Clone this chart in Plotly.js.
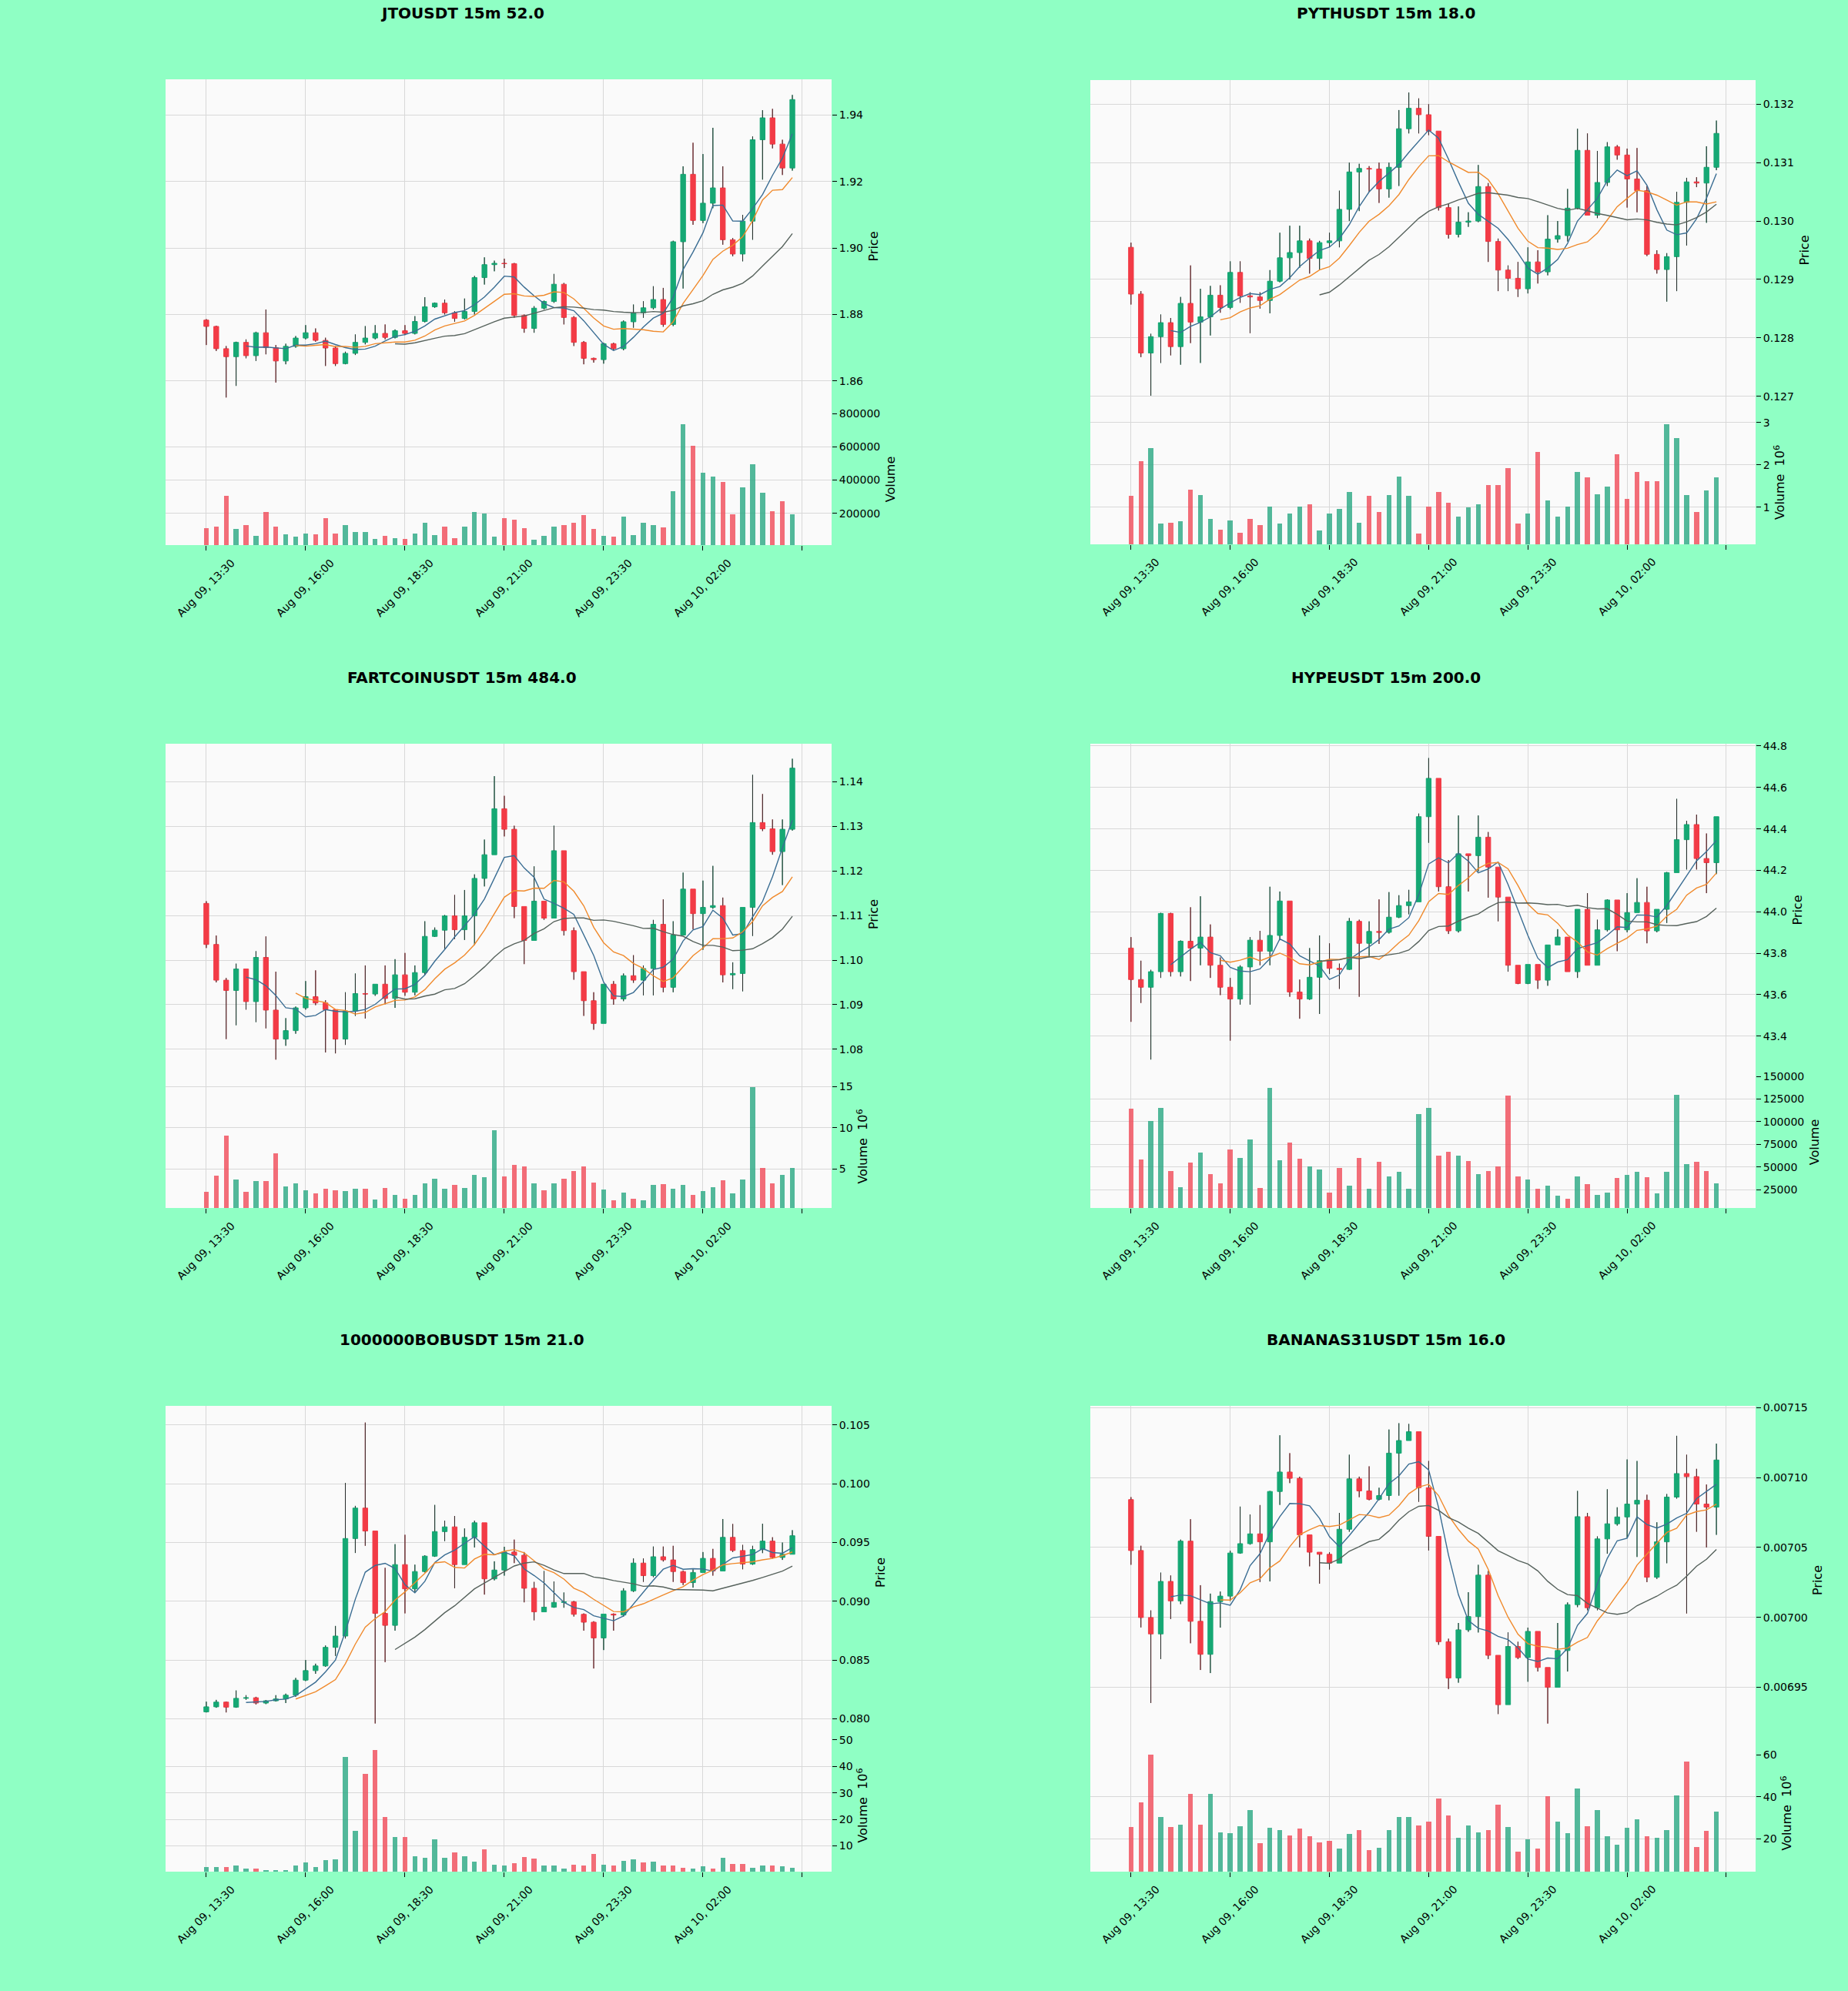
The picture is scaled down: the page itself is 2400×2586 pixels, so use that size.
<!DOCTYPE html>
<html><head><meta charset="utf-8">
<script src="https://cdn.plot.ly/plotly-3.0.1.min.js"></script>
<style>html,body{margin:0;padding:0;background:#8fffc4;}#chart{width:2400px;height:2586px;}</style>
</head><body><div id="chart"></div>
<script>
// ---------- shared x axis ----------
const tickIdx = [0, 10, 20, 30, 40, 50, 60];
const tickLabels = ["Aug 09, 13:30", "Aug 09, 16:00", "Aug 09, 18:30", "Aug 09, 21:00", "Aug 09, 23:30", "Aug 10, 02:00", ""];
const titles = ["JTOUSDT 15m 52.0", "PYTHUSDT 15m 18.0", "FARTCOINUSDT 15m 484.0", "HYPEUSDT 15m 200.0", "1000000BOBUSDT 15m 21.0", "BANANAS31USDT 15m 16.0"];
const maPeriods = [5, 10, 20];

// ---------- JTOUSDT ----------
const jtoOpen = [1.8783,1.8764,1.8697,1.8673,1.8716,1.8676,1.8745,1.8700,1.8660,1.8704,1.8729,1.8745,1.8722,1.8699,1.8652,1.8683,1.8716,1.8729,1.8743,1.8731,1.8751,1.8743,1.8779,1.8823,1.8834,1.8805,1.8788,1.8809,1.8911,1.8950,1.8954,1.8953,1.8797,1.8758,1.8819,1.8839,1.8891,1.8791,1.8716,1.8668,1.8664,1.8712,1.8697,1.8778,1.8805,1.8820,1.8845,1.8770,1.9019,1.9222,1.9083,1.9135,1.9181,1.9025,1.8982,1.9081,1.9326,1.9392,1.9313,1.9241];
const jtoHigh = [1.8786,1.8766,1.8705,1.8718,1.8725,1.8748,1.8815,1.8708,1.8712,1.8735,1.8768,1.8758,1.8730,1.8705,1.8688,1.8740,1.8765,1.8768,1.8770,1.8755,1.8768,1.8795,1.8852,1.8836,1.8845,1.8810,1.8848,1.8916,1.8972,1.8962,1.8968,1.8955,1.8800,1.8825,1.8842,1.8922,1.8895,1.8795,1.8720,1.8670,1.8715,1.8715,1.8782,1.8830,1.8840,1.8885,1.8880,1.9022,1.9246,1.9317,1.9283,1.9362,1.9246,1.9030,1.9100,1.9336,1.9415,1.9419,1.9326,1.9461];
const jtoLow = [1.8708,1.8690,1.8550,1.8585,1.8668,1.8660,1.8680,1.8595,1.8650,1.8700,1.8725,1.8718,1.8645,1.8645,1.8650,1.8678,1.8710,1.8725,1.8725,1.8728,1.8738,1.8740,1.8776,1.8820,1.8800,1.8778,1.8785,1.8800,1.8890,1.8930,1.8940,1.8790,1.8745,1.8745,1.8815,1.8835,1.8770,1.8705,1.8650,1.8655,1.8652,1.8692,1.8692,1.8760,1.8790,1.8815,1.8763,1.8765,1.8878,1.9070,1.9075,1.9120,1.9010,1.8975,1.8960,1.9025,1.9206,1.9300,1.9220,1.9233];
const jtoClose = [1.8764,1.8697,1.8673,1.8716,1.8676,1.8745,1.8700,1.8660,1.8704,1.8729,1.8745,1.8722,1.8699,1.8652,1.8683,1.8716,1.8729,1.8743,1.8731,1.8751,1.8743,1.8779,1.8823,1.8834,1.8805,1.8788,1.8809,1.8911,1.8950,1.8954,1.8953,1.8797,1.8758,1.8819,1.8839,1.8891,1.8791,1.8716,1.8668,1.8664,1.8712,1.8697,1.8778,1.8805,1.8820,1.8845,1.8770,1.9019,1.9222,1.9083,1.9135,1.9181,1.9025,1.8982,1.9081,1.9326,1.9392,1.9313,1.9241,1.9447];
const jtoVolume = [112000,120000,305000,105000,131000,65000,208000,120000,74000,58000,80000,74000,172000,81000,128000,88000,88000,46000,65000,51000,46000,80000,143000,69000,120000,51000,120000,208000,197000,62000,172000,162000,112000,42000,65000,120000,131000,143000,188000,105000,65000,58000,182000,69000,143000,128000,115000,335000,735000,605000,443000,423000,388000,195000,358000,495000,323000,212000,272000,195000];

// ---------- PYTHUSDT ----------
const pythOpen = [0.12955,0.12875,0.12774,0.12802,0.12826,0.12785,0.12859,0.12827,0.12836,0.12873,0.12852,0.12912,0.12872,0.12870,0.12864,0.12897,0.12937,0.12946,0.12966,0.12936,0.12963,0.12966,0.13020,0.13084,0.13090,0.13089,0.13055,0.13092,0.13158,0.13193,0.13182,0.13154,0.13023,0.12977,0.12998,0.13000,0.13059,0.12965,0.12916,0.12902,0.12884,0.12930,0.12913,0.12969,0.12975,0.13022,0.13121,0.13010,0.13066,0.13127,0.13113,0.13072,0.13052,0.12943,0.12917,0.12939,0.13032,0.13067,0.13065,0.13092];
const pythHigh = [0.12963,0.12880,0.12807,0.12840,0.12834,0.12870,0.12924,0.12884,0.12889,0.12890,0.12931,0.12931,0.12878,0.12878,0.12916,0.12980,0.12992,0.12992,0.12970,0.12966,0.12980,0.13052,0.13100,0.13098,0.13094,0.13100,0.13100,0.13190,0.13220,0.13210,0.13200,0.13154,0.13030,0.13025,0.13015,0.13096,0.13065,0.12970,0.12924,0.12930,0.12955,0.12950,0.13010,0.13000,0.13055,0.13158,0.13150,0.13120,0.13135,0.13130,0.13124,0.13125,0.13060,0.12950,0.12945,0.13050,0.13074,0.13075,0.13128,0.13172];
const pythLow = [0.12857,0.12767,0.12701,0.12757,0.12770,0.12754,0.12791,0.12757,0.12804,0.12843,0.12849,0.12860,0.12808,0.12850,0.12842,0.12895,0.12900,0.12920,0.12910,0.12917,0.12955,0.12955,0.13000,0.13017,0.13050,0.13031,0.13040,0.13060,0.13150,0.13150,0.13147,0.13018,0.12970,0.12972,0.12990,0.12998,0.12930,0.12880,0.12880,0.12870,0.12876,0.12893,0.12907,0.12963,0.12965,0.13020,0.13010,0.13005,0.13060,0.13105,0.13023,0.13015,0.12940,0.12910,0.12862,0.12880,0.12958,0.13058,0.12997,0.13087];
const pythClose = [0.12875,0.12774,0.12802,0.12826,0.12785,0.12859,0.12827,0.12836,0.12873,0.12852,0.12912,0.12872,0.12870,0.12864,0.12897,0.12937,0.12946,0.12966,0.12936,0.12963,0.12966,0.13020,0.13084,0.13090,0.13089,0.13055,0.13092,0.13158,0.13193,0.13182,0.13154,0.13023,0.12977,0.12998,0.13000,0.13059,0.12965,0.12916,0.12902,0.12884,0.12930,0.12913,0.12969,0.12975,0.13022,0.13121,0.13010,0.13066,0.13127,0.13113,0.13072,0.13052,0.12943,0.12917,0.12939,0.13032,0.13067,0.13065,0.13092,0.13150];
const pythVolume = [1260000,2080000,2390000,620000,630000,670000,1420000,1290000,720000,470000,690000,400000,730000,580000,1020000,620000,850000,1020000,1060000,440000,850000,960000,1350000,630000,1260000,880000,1290000,1730000,1270000,380000,1020000,1350000,1110000,770000,1000000,1060000,1530000,1530000,1920000,610000,850000,2300000,1150000,780000,1020000,1830000,1710000,1310000,1480000,2250000,1200000,1830000,1620000,1610000,2960000,2630000,1290000,880000,1390000,1710000];

// ---------- FARTCOINUSDT ----------
const fartOpen = [1.1127,1.1035,1.0955,1.0932,1.0980,1.0907,1.1006,1.0888,1.0823,1.0842,1.0893,1.0918,1.0904,1.0889,1.0823,1.0886,1.0925,1.0924,1.0946,1.0914,1.0967,1.0928,1.0972,1.1053,1.1067,1.1099,1.1068,1.1099,1.1183,1.1236,1.1339,1.1293,1.1120,1.1044,1.1132,1.1094,1.1245,1.1066,1.0974,1.0909,1.0858,1.0946,1.0913,1.0965,1.0955,1.0981,1.1080,1.0939,1.1056,1.1159,1.1104,1.1118,1.1122,1.0967,1.0970,1.1118,1.1308,1.1294,1.1243,1.1293];
const fartHigh = [1.1132,1.1055,1.0960,1.0992,1.0980,1.1020,1.1053,1.0974,1.0870,1.0896,1.0953,1.0977,1.0910,1.0889,1.0928,1.0970,1.0988,1.0946,1.0988,1.1002,1.1016,1.0988,1.1087,1.1073,1.1101,1.1146,1.1157,1.1192,1.1270,1.1412,1.1368,1.1301,1.1120,1.1210,1.1132,1.1301,1.1245,1.1073,1.0974,1.0928,1.0946,1.0953,1.0970,1.1011,1.0988,1.1090,1.1136,1.1087,1.1196,1.1159,1.1178,1.1211,1.1140,1.0995,1.1118,1.1415,1.1372,1.1315,1.1315,1.1451];
const fartLow = [1.1027,1.0950,1.0823,1.0854,1.0889,1.0861,1.0847,1.0777,1.0808,1.0835,1.0889,1.0899,1.0793,1.0791,1.0810,1.0875,1.0869,1.0920,1.0901,1.0893,1.0920,1.0921,1.0967,1.1052,1.1025,1.1047,1.1045,1.1034,1.1165,1.1236,1.1277,1.1094,1.0991,1.1044,1.1090,1.1094,1.1055,1.0956,1.0875,1.0844,1.0858,1.0900,1.0908,1.0949,1.0921,1.0921,1.0928,1.0928,1.1056,1.1069,1.1023,1.1115,1.0950,1.0935,1.0930,1.1054,1.1289,1.1236,1.1168,1.1290];
const fartClose = [1.1035,1.0955,1.0932,1.0980,1.0907,1.1006,1.0888,1.0823,1.0842,1.0893,1.0918,1.0904,1.0889,1.0823,1.0886,1.0925,1.0924,1.0946,1.0914,1.0967,1.0928,1.0972,1.1053,1.1067,1.1099,1.1068,1.1099,1.1183,1.1236,1.1339,1.1293,1.1120,1.1044,1.1132,1.1094,1.1245,1.1066,1.0974,1.0909,1.0858,1.0946,1.0913,1.0965,1.0955,1.0981,1.1080,1.0939,1.1056,1.1159,1.1104,1.1118,1.1122,1.0967,1.0970,1.1118,1.1308,1.1294,1.1243,1.1293,1.1430];
const fartVolume = [2260000,4240000,9030000,3780000,2260000,3520000,3590000,6900000,2950000,3330000,2450000,2070000,2640000,2450000,2380000,2640000,2640000,1310000,2720000,1880000,1430000,1880000,3330000,3860000,2640000,3140000,2720000,4350000,4050000,9750000,4160000,5490000,5380000,3290000,2450000,3330000,3860000,4730000,5300000,3400000,2530000,1200000,2150000,1430000,1240000,3140000,3210000,2640000,3140000,1880000,2380000,2830000,3670000,2070000,3710000,14890000,5190000,3290000,4350000,5190000];

// ---------- HYPEUSDT ----------
const hypeOpen = [43.825,43.673,43.636,43.711,43.992,43.711,43.858,43.825,43.878,43.742,43.636,43.579,43.734,43.863,43.810,43.886,44.052,43.613,43.579,43.684,43.764,43.727,43.722,43.954,43.848,43.905,43.901,43.974,44.030,44.048,44.459,44.644,44.121,43.908,44.280,44.271,44.360,44.216,44.071,43.742,43.654,43.746,43.670,43.840,43.878,43.711,44.012,43.742,43.913,44.057,43.913,43.996,44.045,43.908,44.012,44.189,44.348,44.421,44.257,44.237];
const hypeHigh = [43.878,43.764,43.720,43.995,43.995,43.862,44.022,44.075,43.939,43.780,43.681,43.742,43.878,43.908,44.121,44.098,44.052,43.673,43.825,43.886,43.848,43.750,43.970,43.962,43.954,44.060,44.095,44.080,44.106,44.474,44.742,44.644,44.250,44.465,44.280,44.465,44.385,44.216,44.071,43.742,43.746,43.746,43.840,43.916,43.878,44.012,44.090,43.962,44.060,44.057,44.090,44.162,44.121,44.012,44.192,44.545,44.439,44.469,44.378,44.459];
const hypeLow = [43.469,43.560,43.287,43.681,43.688,43.688,43.666,43.742,43.681,43.598,43.378,43.552,43.552,43.742,43.742,43.863,43.590,43.484,43.575,43.507,43.700,43.628,43.720,43.590,43.780,43.845,43.895,43.970,43.988,44.048,44.333,44.098,43.893,43.900,44.098,44.195,44.068,43.954,43.711,43.651,43.651,43.628,43.643,43.840,43.711,43.681,43.742,43.742,43.905,43.810,43.901,43.996,43.848,43.901,43.946,44.189,44.204,44.204,44.090,44.182];
const hypeClose = [43.673,43.636,43.711,43.992,43.711,43.858,43.825,43.878,43.742,43.636,43.579,43.734,43.863,43.810,43.886,44.052,43.613,43.579,43.684,43.764,43.727,43.722,43.954,43.848,43.905,43.901,43.974,44.030,44.048,44.459,44.644,44.121,43.908,44.280,44.271,44.360,44.216,44.071,43.742,43.654,43.746,43.670,43.840,43.878,43.711,44.012,43.742,43.913,44.057,43.913,43.996,44.045,43.908,44.012,44.189,44.348,44.421,44.257,44.237,44.459];
const hypeVolume = [114600,58300,100700,115600,45100,27800,54900,66000,41700,32300,69400,60100,80600,27100,137800,57300,77100,59000,50300,46900,21500,49300,29500,60100,26000,55600,39900,44400,26000,108700,115600,62500,66700,62500,56200,41700,45800,50300,129200,39900,36500,26000,29500,18100,14900,39900,31200,19100,21500,38200,41000,44400,38900,20800,44400,129500,53100,55600,45800,32300];

// ---------- 1000000BOBUSDT ----------
const bobOpen = [0.08059,0.08102,0.08142,0.08099,0.08174,0.08179,0.08134,0.08153,0.08169,0.08201,0.08329,0.08410,0.08450,0.08608,0.08704,0.09534,0.09793,0.09598,0.08897,0.08795,0.09312,0.09106,0.09253,0.09384,0.09593,0.09633,0.09312,0.09544,0.09668,0.09191,0.09266,0.09419,0.09392,0.09111,0.08910,0.08950,0.08990,0.08995,0.08889,0.08822,0.08688,0.08891,0.08883,0.09089,0.09325,0.09218,0.09379,0.09352,0.09253,0.09159,0.09245,0.09365,0.09258,0.09544,0.09432,0.09317,0.09440,0.09512,0.09373,0.09400];
const bobHigh = [0.08146,0.08161,0.08146,0.08241,0.08201,0.08187,0.08160,0.08201,0.08214,0.08348,0.08500,0.08469,0.08624,0.08790,0.10007,0.09812,0.10521,0.09598,0.09285,0.09486,0.09566,0.09312,0.09392,0.09820,0.09686,0.09726,0.09620,0.09686,0.09668,0.09340,0.09464,0.09525,0.09419,0.09165,0.09258,0.09169,0.09075,0.09003,0.08897,0.08830,0.08891,0.08897,0.09111,0.09365,0.09365,0.09466,0.09466,0.09472,0.09262,0.09272,0.09419,0.09446,0.09700,0.09658,0.09480,0.09472,0.09660,0.09545,0.09500,0.09605];
const bobLow = [0.08054,0.08094,0.08054,0.08094,0.08161,0.08121,0.08125,0.08147,0.08134,0.08187,0.08321,0.08383,0.08442,0.08535,0.08683,0.09411,0.09472,0.07960,0.08482,0.08750,0.08897,0.09079,0.09245,0.09378,0.09512,0.09111,0.09312,0.09458,0.09057,0.09178,0.09218,0.09325,0.08991,0.08838,0.08910,0.08945,0.08945,0.08870,0.08750,0.08428,0.08585,0.08750,0.08870,0.09079,0.09165,0.09205,0.09338,0.09165,0.09138,0.09116,0.09245,0.09218,0.09258,0.09419,0.09272,0.09310,0.09410,0.09365,0.09352,0.09400];
const bobClose = [0.08102,0.08142,0.08099,0.08174,0.08179,0.08134,0.08153,0.08169,0.08201,0.08329,0.08410,0.08450,0.08608,0.08704,0.09534,0.09793,0.09598,0.08897,0.08795,0.09312,0.09106,0.09253,0.09384,0.09593,0.09633,0.09312,0.09544,0.09668,0.09191,0.09266,0.09419,0.09392,0.09111,0.08910,0.08950,0.08990,0.08995,0.08889,0.08822,0.08688,0.08891,0.08883,0.09089,0.09325,0.09218,0.09379,0.09352,0.09253,0.09159,0.09245,0.09365,0.09258,0.09544,0.09432,0.09317,0.09440,0.09512,0.09373,0.09400,0.09558];
const bobVolume = [2070000,2070000,1950000,2500000,1360000,1500000,900000,1000000,800000,2500000,3700000,2070000,4670000,5000000,43500000,15700000,37200000,46100000,21000000,13300000,13200000,6100000,5500000,12600000,5500000,7600000,6200000,4100000,8600000,2900000,2500000,3500000,5900000,5300000,2700000,2700000,1500000,2900000,2700000,7000000,2900000,2700000,4400000,5000000,3700000,4100000,2500000,2700000,1700000,1360000,2300000,1360000,5500000,3100000,3100000,1700000,2500000,2500000,2300000,1700000];

// ---------- BANANAS31USDT ----------
const banOpen = [0.0070842,0.0070478,0.0069999,0.0069882,0.0070257,0.0070118,0.0070545,0.0069972,0.0069736,0.0070113,0.0070152,0.0070460,0.0070527,0.0070597,0.0070540,0.0070900,0.0071039,0.0070994,0.0070590,0.0070466,0.0070451,0.0070388,0.0070630,0.0070990,0.0070904,0.0070844,0.0070871,0.0071174,0.0071264,0.0071327,0.0070927,0.0070579,0.0069826,0.0069567,0.0069911,0.0070006,0.0070302,0.0069729,0.0069376,0.0069792,0.0069713,0.0069900,0.0069642,0.0069500,0.0069763,0.0070091,0.0070720,0.0070069,0.0070561,0.0070669,0.0070718,0.0070810,0.0070837,0.0070287,0.0070540,0.0070860,0.0071028,0.0071006,0.0070810,0.0070788];
const banHigh = [0.0070860,0.0070512,0.0070050,0.0070320,0.0070300,0.0070556,0.0070702,0.0070230,0.0070170,0.0070185,0.0070477,0.0070792,0.0070736,0.0070803,0.0070904,0.0071302,0.0071174,0.0071006,0.0070590,0.0070466,0.0070466,0.0070747,0.0071163,0.0071006,0.0071080,0.0070927,0.0071343,0.0071388,0.0071383,0.0071327,0.0071118,0.0070579,0.0069848,0.0069960,0.0070180,0.0070376,0.0070331,0.0069729,0.0069893,0.0069826,0.0069927,0.0069900,0.0069642,0.0069960,0.0070107,0.0070904,0.0070747,0.0070579,0.0070916,0.0070787,0.0071129,0.0071118,0.0070877,0.0070680,0.0070882,0.0071298,0.0071163,0.0071062,0.0070950,0.0071242];
const banLow = [0.0070376,0.0069928,0.0069388,0.0069702,0.0069988,0.0070095,0.0069815,0.0069624,0.0069602,0.0069927,0.0070117,0.0070455,0.0070520,0.0070253,0.0070257,0.0070804,0.0070960,0.0070500,0.0070365,0.0070241,0.0070342,0.0070388,0.0070612,0.0070859,0.0070837,0.0070837,0.0070837,0.0070870,0.0071264,0.0070826,0.0070478,0.0069804,0.0069488,0.0069533,0.0069897,0.0069892,0.0069702,0.0069309,0.0069376,0.0069702,0.0069540,0.0069613,0.0069241,0.0069500,0.0069613,0.0070073,0.0070051,0.0070051,0.0070455,0.0070656,0.0070567,0.0070432,0.0070252,0.0070275,0.0070387,0.0070849,0.0070028,0.0070612,0.0070500,0.0070590];
const banClose = [0.0070478,0.0069999,0.0069882,0.0070257,0.0070118,0.0070545,0.0069972,0.0069736,0.0070113,0.0070152,0.0070460,0.0070527,0.0070597,0.0070540,0.0070900,0.0071039,0.0070994,0.0070590,0.0070466,0.0070451,0.0070388,0.0070630,0.0070990,0.0070904,0.0070844,0.0070871,0.0071174,0.0071264,0.0071327,0.0070927,0.0070579,0.0069826,0.0069567,0.0069911,0.0070006,0.0070302,0.0069729,0.0069376,0.0069792,0.0069713,0.0069900,0.0069642,0.0069500,0.0069763,0.0070091,0.0070720,0.0070069,0.0070561,0.0070669,0.0070718,0.0070810,0.0070837,0.0070287,0.0070540,0.0070860,0.0071028,0.0071006,0.0070810,0.0070788,0.0071125];
const banVolume = [25500000,37200000,61500000,30500000,25500000,26600000,41300000,26700000,41300000,23000000,22800000,25800000,33500000,17800000,25100000,24000000,21500000,24800000,21000000,18100000,19100000,15400000,22100000,24000000,14600000,15800000,24000000,30300000,30500000,26300000,28100000,39000000,31200000,20300000,26300000,23000000,24000000,36300000,25500000,13900000,19600000,15400000,40100000,28200000,22500000,44000000,25800000,33800000,21000000,17000000,25200000,29300000,21000000,20300000,24000000,40800000,56700000,16100000,23600000,33000000];

// ---------- axis tick labels ----------
const jtoPriceTicks = [1.86, 1.88, 1.90, 1.92, 1.94];
const jtoVolTicks = [200000, 400000, 600000, 800000];
const pythPriceTicks = [0.127, 0.128, 0.129, 0.130, 0.131, 0.132];
const pythVolTicks = [1, 2, 3];
const fartPriceTicks = [1.08, 1.09, 1.10, 1.11, 1.12, 1.13, 1.14];
const fartVolTicks = [5, 10, 15];
const hypePriceTicks = [43.4, 43.6, 43.8, 44.0, 44.2, 44.4, 44.6, 44.8];
const hypeVolTicks = [25000, 50000, 75000, 100000, 125000, 150000];
const bobPriceTicks = [0.080, 0.085, 0.090, 0.095, 0.100, 0.105];
const bobVolTicks = [10, 20, 30, 40, 50];
const banPriceTicks = [0.00695, 0.00700, 0.00705, 0.00710, 0.00715];
const banVolTicks = [20, 40, 60];

// ---------- styles ----------
const UP = '#16a874', DOWN = '#f23b46';
const VOL_UP = 'rgba(52,172,136,0.85)', VOL_DOWN = 'rgba(240,84,96,0.85)';
const MA_COLORS = ['#3a6d93', '#f08a2c', '#56625c'];
const GRID = '#d8d8d8';
const FONT = 'DejaVu Sans';
const TICK_SIZE = 14;

const panels = [
  {o: jtoOpen, h: jtoHigh, l: jtoLow, c: jtoClose, v: jtoVolume, pt: jtoPriceTicks, pd: 2, vt: jtoVolTicks, vs: 1, vtitle: 'Volume',
   xd: [0.0896, 0.45], yp: [0.79234, 0.96017], yv: [0.72622, 0.79234], pr: [1.8502, 1.9508], vr: [9400, 800000]},
  {o: pythOpen, h: pythHigh, l: pythLow, c: pythClose, v: pythVolume, pt: pythPriceTicks, pd: 3, vt: pythVolTicks, vs: 1e6, vtitle: 'Volume  10<sup>6</sup>',
   xd: [0.59, 0.95], yp: [0.78886, 0.95978], yv: [0.72660, 0.78886], pr: [0.126587, 0.132413], vr: [121000, 3050000]},
  {o: fartOpen, h: fartHigh, l: fartLow, c: fartClose, v: fartVolume, pt: fartPriceTicks, pd: 2, vt: fartVolTicks, vs: 1e6, vtitle: 'Volume  10<sup>6</sup>',
   xd: [0.0896, 0.45], yp: [0.45514, 0.62645], yv: [0.39327, 0.45514], pr: [1.07206, 1.14846], vr: [307000, 15200000]},
  {o: hypeOpen, h: hypeHigh, l: hypeLow, c: hypeClose, v: hypeVolume, pt: hypePriceTicks, pd: 1, vt: hypeVolTicks, vs: 1, vtitle: 'Volume',
   xd: [0.59, 0.95], yp: [0.45940, 0.62645], yv: [0.39327, 0.45940], pr: [43.206, 44.811], vr: [4660, 150170]},
  {o: bobOpen, h: bobHigh, l: bobLow, c: bobClose, v: bobVolume, pt: bobPriceTicks, pd: 3, vt: bobVolTicks, vs: 1e6, vtitle: 'Volume  10<sup>6</sup>',
   xd: [0.0896, 0.45], yp: [0.12645, 0.29389], yv: [0.05994, 0.12645], pr: [0.07826, 0.10663], vr: [280000, 50200000]},
  {o: banOpen, h: banHigh, l: banLow, c: banClose, v: banVolume, pt: banPriceTicks, pd: 5, vt: banVolTicks, vs: 1e6, vtitle: 'Volume  10<sup>6</sup>',
   xd: [0.59, 0.95], yp: [0.11872, 0.29389], yv: [0.05994, 0.11872], pr: [0.0069019, 0.0071512], vr: [4290000, 60100000]}
];
const titleY = [0.99343, 0.65971, 0.32715];

function sma(arr, n) {
  return arr.map((_, i) => i < n - 1 ? null : arr.slice(i - n + 1, i + 1).reduce((a, b) => a + b, 0) / n);
}
function axKey(letter, n) { return letter + 'axis' + (n === 1 ? '' : n); }

const traces = [];
const layout = {
  width: 2400, height: 2586,
  margin: {l: 0, r: 0, t: 0, b: 0},
  paper_bgcolor: '#8fffc4', plot_bgcolor: '#fafafa',
  showlegend: false,
  font: {family: FONT, color: '#000', size: TICK_SIZE},
  annotations: [],
  bargap: 0
};

panels.forEach((p, k) => {
  const pn = 2 * k + 1, vn = 2 * k + 2;
  const xp = 'x' + pn, ypk = 'y' + pn, xv = 'x' + vn, yvk = 'y' + vn;
  const idx = p.c.map((_, i) => i);

  // wicks (upper and lower shadows, drawn outside the body)
  const wx = [], wy = [];
  idx.forEach(i => {
    const top = Math.max(p.o[i], p.c[i]), bot = Math.min(p.o[i], p.c[i]);
    wx.push(i, i, null, i, i, null);
    wy.push(p.h[i], top, null, bot, p.l[i], null);
  });
  traces.push({type: 'scatter', mode: 'lines', x: wx, y: wy, xaxis: xp, yaxis: ypk,
    line: {color: '#2a2a2a', width: 1}, hoverinfo: 'skip', connectgaps: false});

  traces.push({type: 'candlestick', x: idx, open: p.o, high: p.h, low: p.l, close: p.c,
    xaxis: xp, yaxis: ypk, whiskerwidth: 0,
    increasing: {line: {color: UP, width: 1}, fillcolor: UP},
    decreasing: {line: {color: DOWN, width: 1}, fillcolor: DOWN},
    hoverinfo: 'skip'});

  maPeriods.forEach((n, j) => {
    traces.push({type: 'scatter', mode: 'lines', x: idx, y: sma(p.c, n), xaxis: xp, yaxis: ypk,
      line: {color: MA_COLORS[j], width: 1.4}, hoverinfo: 'skip'});
  });

  traces.push({type: 'bar', x: idx, y: p.v, xaxis: xv, yaxis: yvk, width: 0.5,
    marker: {color: idx.map(i => p.c[i] >= p.o[i] ? VOL_UP : VOL_DOWN), line: {width: 0}},
    hoverinfo: 'skip'});

  const xCommon = {domain: p.xd, range: [-4.1, 62.95], tickmode: 'array', tickvals: tickIdx,
    showgrid: true, gridcolor: GRID, gridwidth: 1, zeroline: false, showline: false, fixedrange: true,
    rangeslider: {visible: false}, showticklabels: false};
  layout[axKey('x', pn)] = Object.assign({}, xCommon, {anchor: ypk, ticks: ''});
  layout[axKey('x', vn)] = Object.assign({}, xCommon, {anchor: yvk,
    ticks: 'outside', ticklen: 6, tickcolor: '#000', tickwidth: 1});

  layout[axKey('y', pn)] = {domain: p.yp, anchor: xp, side: 'right', range: p.pr,
    tickmode: 'array', tickvals: p.pt, ticktext: p.pt.map(t => t.toFixed(p.pd)),
    ticks: 'outside', ticklen: 6, tickcolor: '#000', tickwidth: 1, tickfont: {size: TICK_SIZE, family: FONT},
    showgrid: true, gridcolor: GRID, gridwidth: 1, zeroline: false, showline: false,
    title: {text: 'Price', font: {size: 16, family: FONT}, standoff: 8}};
  layout[axKey('y', vn)] = {domain: p.yv, anchor: xv, side: 'right', range: p.vr,
    tickmode: 'array', tickvals: p.vt.map(t => t * p.vs), ticktext: p.vt.map(t => String(t)),
    ticks: 'outside', ticklen: 6, tickcolor: '#000', tickwidth: 1, tickfont: {size: TICK_SIZE, family: FONT},
    showgrid: true, gridcolor: GRID, gridwidth: 1, zeroline: false, showline: false,
    title: {text: p.vtitle, font: {size: 16, family: FONT}, standoff: 8}};

  // rotated date labels, centred under each tick (matplotlib style)
  tickIdx.forEach((t, j) => {
    if (!tickLabels[j]) return;
    layout.annotations.push({text: tickLabels[j], xref: xv, yref: 'paper', x: t, y: p.yv[0] - 12 / 2586,
      xanchor: 'center', yanchor: 'top', textangle: -45, showarrow: false,
      font: {size: TICK_SIZE, family: FONT, color: '#000'}});
  });

  layout.annotations.push({text: '<b>' + titles[k] + '</b>', xref: 'paper', yref: 'paper',
    x: k % 2 === 0 ? 0.25 : 0.75, y: titleY[Math.floor(k / 2)], xanchor: 'center', yanchor: 'middle',
    showarrow: false, font: {size: 20, family: FONT, color: '#000'}});
});

Plotly.newPlot('chart', traces, layout, {staticPlot: true, displayModeBar: false});
</script></body></html>
